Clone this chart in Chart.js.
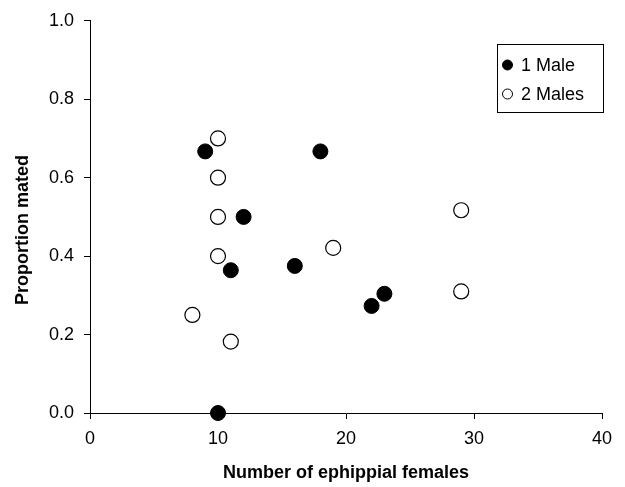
<!DOCTYPE html>
<html>
<head>
<meta charset="utf-8">
<script src="https://cdn.jsdelivr.net/npm/chart.js@4/dist/chart.umd.min.js"></script>
<style>
  html, body { margin: 0; padding: 0; background: #fff; }
  #wrap { width: 625px; height: 487px; }
</style>
</head>
<body>
<div id="wrap"><canvas id="scatter"></canvas></div>
<script>
// number of ephippial females vs proportion mated
var oneMaleX = [9, 18, 12, 11, 16, 22, 23, 10];
var oneMaleY = [0.667, 0.667, 0.5, 0.364, 0.375, 0.273, 0.304, 0];
var twoMalesX = [10, 10, 10, 10, 8, 11, 19, 29, 29];
var twoMalesY = [0.7, 0.6, 0.5, 0.4, 0.25, 0.182, 0.421, 0.517, 0.31];
var seriesLabels = ["1 Male", "2 Males"];
var xTicks = [0, 10, 20, 30, 40];
var yTicks = [0, 0.2, 0.4, 0.6, 0.8, 1.0];
var yTitle = 'Proportion mated';

var FONT = '"Liberation Sans", Arial, sans-serif';

function toPoints(xs, ys) {
    var pts = [];
    for (var i = 0; i < xs.length; i++) {
        pts.push({x: xs[i], y: ys[i]});
    }
    return pts;
}

// legend box + y title drawn by hand, like the original
var boxLegend = {
    id: 'boxLegend',
    afterDraw: function (chart) {
        var ctx = chart.ctx;
        var x0 = 497, y0 = 44, w = 106, h = 68;
        ctx.save();
        ctx.fillStyle = '#fff';
        ctx.fillRect(x0, y0, w, h);
        ctx.strokeStyle = '#000';
        ctx.lineWidth = 1;
        ctx.strokeRect(x0 + 0.5, y0 + 0.5, w, h);
        ctx.font = '18px ' + FONT;
        ctx.textBaseline = 'middle';
        chart.data.datasets.forEach(function (ds, i) {
            var cy = y0 + 21 + i * 29;
            ctx.beginPath();
            ctx.arc(x0 + 10.5, cy, 5, 0, Math.PI * 2);
            ctx.fillStyle = ds.backgroundColor;
            ctx.fill();
            ctx.strokeStyle = '#000';
            ctx.stroke();
            ctx.fillStyle = '#000';
            ctx.fillText(ds.label, x0 + 24, cy + 1);
        });

        // y axis title, sits a bit below the middle of the axis
        ctx.translate(23, 230);
        ctx.rotate(-Math.PI / 2);
        ctx.font = 'bold 18px ' + FONT;
        ctx.textAlign = 'center';
        ctx.fillStyle = '#000';
        ctx.fillText(yTitle, 0, 0);
        ctx.restore();
    }
};

var ctx = document.getElementById('scatter');
var chart = new Chart(ctx, {
    type: 'scatter',
    data: {
        datasets: [
            {
                label: seriesLabels[0],
                data: toPoints(oneMaleX, oneMaleY),
                backgroundColor: '#000',
                borderColor: '#000',
                borderWidth: 1,
                pointRadius: 7.5,
                pointHoverRadius: 7.5
            },
            {
                label: seriesLabels[1],
                data: toPoints(twoMalesX, twoMalesY),
                backgroundColor: '#fff',
                borderColor: '#000',
                borderWidth: 1.2,
                pointRadius: 7.5,
                pointHoverRadius: 7.5
            }
        ]
    },
    options: {
        responsive: true,
        maintainAspectRatio: false,
        animation: false,
        clip: false,
        layout: {padding: {top: 19, right: 23, left: 0, bottom: 0}},
        plugins: {
            legend: {display: false},
            tooltip: {enabled: false}
        },
        scales: {
            x: {
                type: 'linear',
                min: 0,
                max: 40,
                afterBuildTicks: function (axis) {
                    axis.ticks = xTicks.map(function (v) { return {value: v}; });
                },
                afterFit: function (axis) { axis.height = 74; },
                grid: {drawOnChartArea: false, drawTicks: true, tickLength: 6, color: '#000'},
                border: {color: '#000', width: 1},
                ticks: {
                    color: '#000',
                    padding: 9,
                    maxRotation: 0,
                    font: {family: FONT, size: 18}
                },
                title: {
                    display: true,
                    text: 'Number of ephippial females',
                    color: '#000',
                    padding: {top: 4, bottom: 3},
                    font: {family: FONT, size: 18, weight: 'bold'}
                }
            },
            y: {
                type: 'linear',
                min: 0,
                max: 1,
                afterBuildTicks: function (axis) {
                    axis.ticks = yTicks.map(function (v) { return {value: v}; });
                },
                afterFit: function (axis) { axis.width = 90; },
                grid: {drawOnChartArea: false, drawTicks: true, tickLength: 6, color: '#000'},
                border: {color: '#000', width: 1},
                ticks: {
                    color: '#000',
                    padding: 10,
                    callback: function (v) { return v.toFixed(1); },
                    font: {family: FONT, size: 18}
                },
                title: {display: false}
            }
        }
    },
    plugins: [boxLegend]
});
</script>
</body>
</html>
